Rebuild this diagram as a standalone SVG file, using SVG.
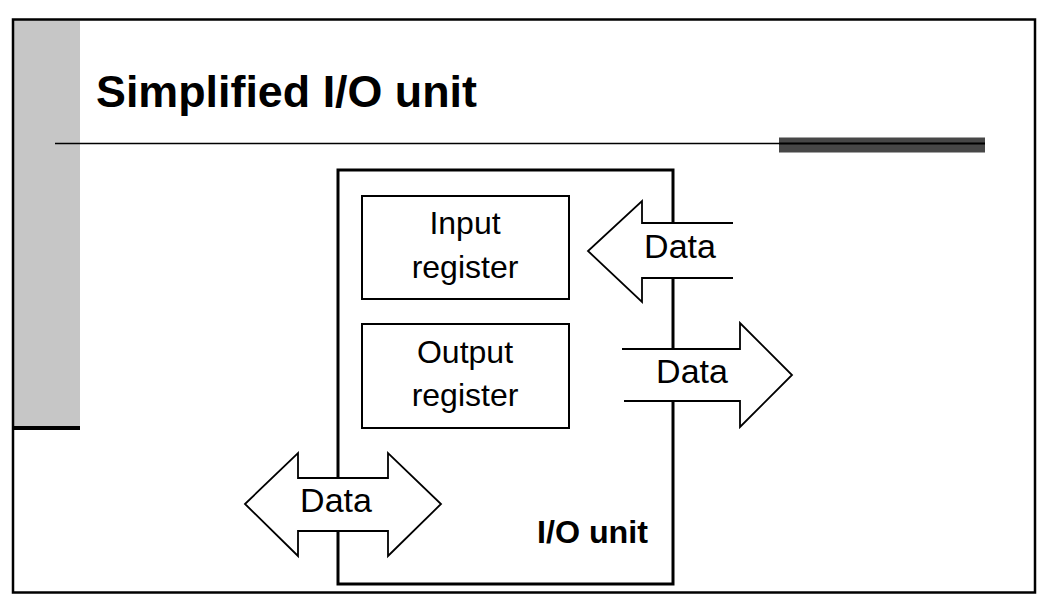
<svg xmlns="http://www.w3.org/2000/svg" width="1061" height="615" viewBox="0 0 1061 615">
<style>
.lbl{font-family:"Liberation Sans",Arial,sans-serif;font-size:32px;fill:#000;text-anchor:middle}
.data{font-family:"Liberation Sans",Arial,sans-serif;font-size:34px;fill:#000;text-anchor:middle}
.arrow{fill:#fff;stroke:#000;stroke-width:1.8;stroke-linejoin:miter}
.reg{fill:#fff;stroke:#000;stroke-width:2}
</style>
<rect width="1061" height="615" fill="#fff"/>
<g id="slide-frame">
<rect x="14" y="20" width="66" height="408" fill="#c6c6c6"/>
<rect x="14" y="426" width="66" height="4" fill="#000"/>
<rect x="13" y="19.5" width="1022" height="573" fill="none" stroke="#000" stroke-width="2.5"/>
<line x1="55" y1="143.5" x2="985" y2="143.5" stroke="#000" stroke-width="1.5"/>
<rect x="779" y="137.5" width="206" height="15" fill="#474747"/>
<line x1="779" y1="143.5" x2="985" y2="143.5" stroke="#000" stroke-width="2"/>
</g>
<text id="title" x="96" y="107" font-family="'Liberation Sans',Arial,sans-serif" font-size="45" font-weight="bold" textLength="381" lengthAdjust="spacingAndGlyphs">Simplified I/O unit</text>
<g id="io-unit">
<rect x="338" y="170" width="335" height="414" fill="#fff" stroke="#000" stroke-width="3"/>
<text x="537" y="543" font-family="'Liberation Sans',Arial,sans-serif" font-size="31" font-weight="bold" textLength="111" lengthAdjust="spacingAndGlyphs">I/O unit</text>
</g>
<g id="input-register">
<rect class="reg" x="362" y="196" width="207" height="103"/>
<text class="lbl" x="465" y="234">Input</text>
<text class="lbl" x="465" y="278">register</text>
</g>
<g id="output-register">
<rect class="reg" x="362" y="324" width="207" height="104"/>
<text class="lbl" x="465" y="363">Output</text>
<text class="lbl" x="465" y="406">register</text>
</g>
<g id="connectors">
<g id="data-in">
<path class="arrow" d="M733,223 H642 V201 L588,251 L642,302 V278 H733" />
<text class="data" x="680" y="258">Data</text>
</g>
<g id="data-out">
<path class="arrow" d="M622,349 H740 V323 L792,375 L740,427 V401 H624" />
<text class="data" x="692" y="383">Data</text>
</g>
<g id="data-bidir">
<path class="arrow" d="M245,504 L298,453 V478 H388 V453 L441,504 L388,556 V531 H298 V556 Z" />
<text class="data" x="336" y="512">Data</text>
</g>
</g>
</svg>
